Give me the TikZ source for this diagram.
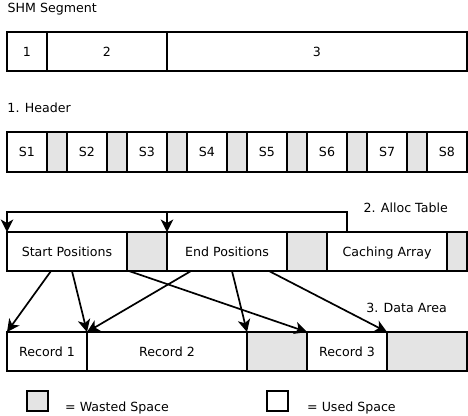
\documentclass[tikz,border=0pt]{standalone}
\usepackage{fontspec}
\setmainfont{DejaVu Sans}
\usetikzlibrary{arrows.meta}
\definecolor{wasted}{RGB}{228,228,228}
\begin{document}
\begin{tikzpicture}[x=1bp,y=-1bp,
  txt/.style={font=\fontsize{12.6bp}{14bp}\selectfont},
  cell/.style={txt, draw=black, line width=2bp, outer sep=0pt, inner sep=0pt,
    anchor=north west, text height=9.2bp, text depth=0pt},
  used/.style={cell, fill=white},
  waste/.style={cell, fill=wasted},
  lbl/.style={txt, inner sep=0pt},
  arr/.style={line width=1.7bp, -{Stealth[length=12.5bp,width=12.5bp,inset=3.5bp]}}]
\useasboundingbox (0,0) rectangle (468,415);

% titles
\node[lbl, anchor=base west] (t1) at (7.5,12.5) {SHM Segment};
\node[lbl, anchor=base west] (t2) at (7.3,112.5) {1. Header};
\node[lbl, anchor=base east] (t3) at (448,212.5) {2. Alloc Table};
\node[lbl, anchor=base east] (t4) at (447,312) {3. Data Area};

% SHM segment
\node[used, minimum width=40bp, minimum height=39bp] (a1) at (7,32) {1};
\node[used, minimum width=120bp, minimum height=39bp] (a2) at (47,32) {2};
\node[used, minimum width=299.5bp, minimum height=39bp] (a3) at (167,32) {3};

% header
\foreach \i in {1,...,7}{
  \node[used, minimum width=40bp, minimum height=40bp] (s\i) at ({7+60*(\i-1)},132) {S\i};
  \node[waste, minimum width=20bp, minimum height=40bp] (h\i) at ({47+60*(\i-1)},132) {};
}
\node[used, minimum width=39.5bp, minimum height=40bp] (s8) at (427,132) {S8};

% alloc table
\node[used, minimum width=120bp, minimum height=39bp] (sp) at (7,232) {Start Positions};
\node[waste, minimum width=40bp, minimum height=39bp] (g1) at (127,232) {};
\node[used, minimum width=120bp, minimum height=39bp] (ep) at (167,232) {End Positions};
\node[waste, minimum width=40bp, minimum height=39bp] (g2) at (287,232) {};
\node[used, minimum width=120bp, minimum height=39bp] (ca) at (327,232) {Caching Array};
\node[waste, minimum width=19.5bp, minimum height=39bp] (g3) at (447,232) {};

% data area
\node[used, minimum width=80bp, minimum height=39bp] (r1) at (7,332) {Record 1};
\node[used, minimum width=160bp, minimum height=39bp] (r2) at (87,332) {Record 2};
\node[waste, minimum width=60bp, minimum height=39bp] (d1) at (247,332) {};
\node[used, minimum width=80bp, minimum height=39bp] (r3) at (307,332) {Record 3};
\node[waste, minimum width=79.5bp, minimum height=39bp] (d2) at (387,332) {};

% bracket from caching array
\draw[arr] ([xshift=20bp]ca.north west) |- ([yshift=20bp]sp.north west) -- (sp.north west);
\draw[arr] ([yshift=20bp]ep.north west) -- (ep.north west);

% pointers
\draw[arr] ([xshift=44bp]sp.south west) -- (r1.north west);
\draw[arr] ([xshift=65bp]sp.south west) -- (r2.north west);
\draw[arr] ([xshift=122bp]sp.south west) -- (r3.north west);
\draw[arr] ([xshift=24bp]ep.south west) -- (r2.north west);
\draw[arr] ([xshift=65bp]ep.south west) -- (d1.north west);
\draw[arr] ([xshift=102bp]ep.south west) -- (r3.north east);

% legend
\node[waste, minimum width=21bp, minimum height=20bp] (lw) at (27,391) {};
\node[lbl, anchor=base west] (lwt) at (65,411) {= Wasted Space};
\node[used, minimum width=21bp, minimum height=20bp] (lu) at (267,391) {};
\node[lbl, anchor=base west] (lut) at (307,411) {= Used Space};
\end{tikzpicture}
\end{document}
